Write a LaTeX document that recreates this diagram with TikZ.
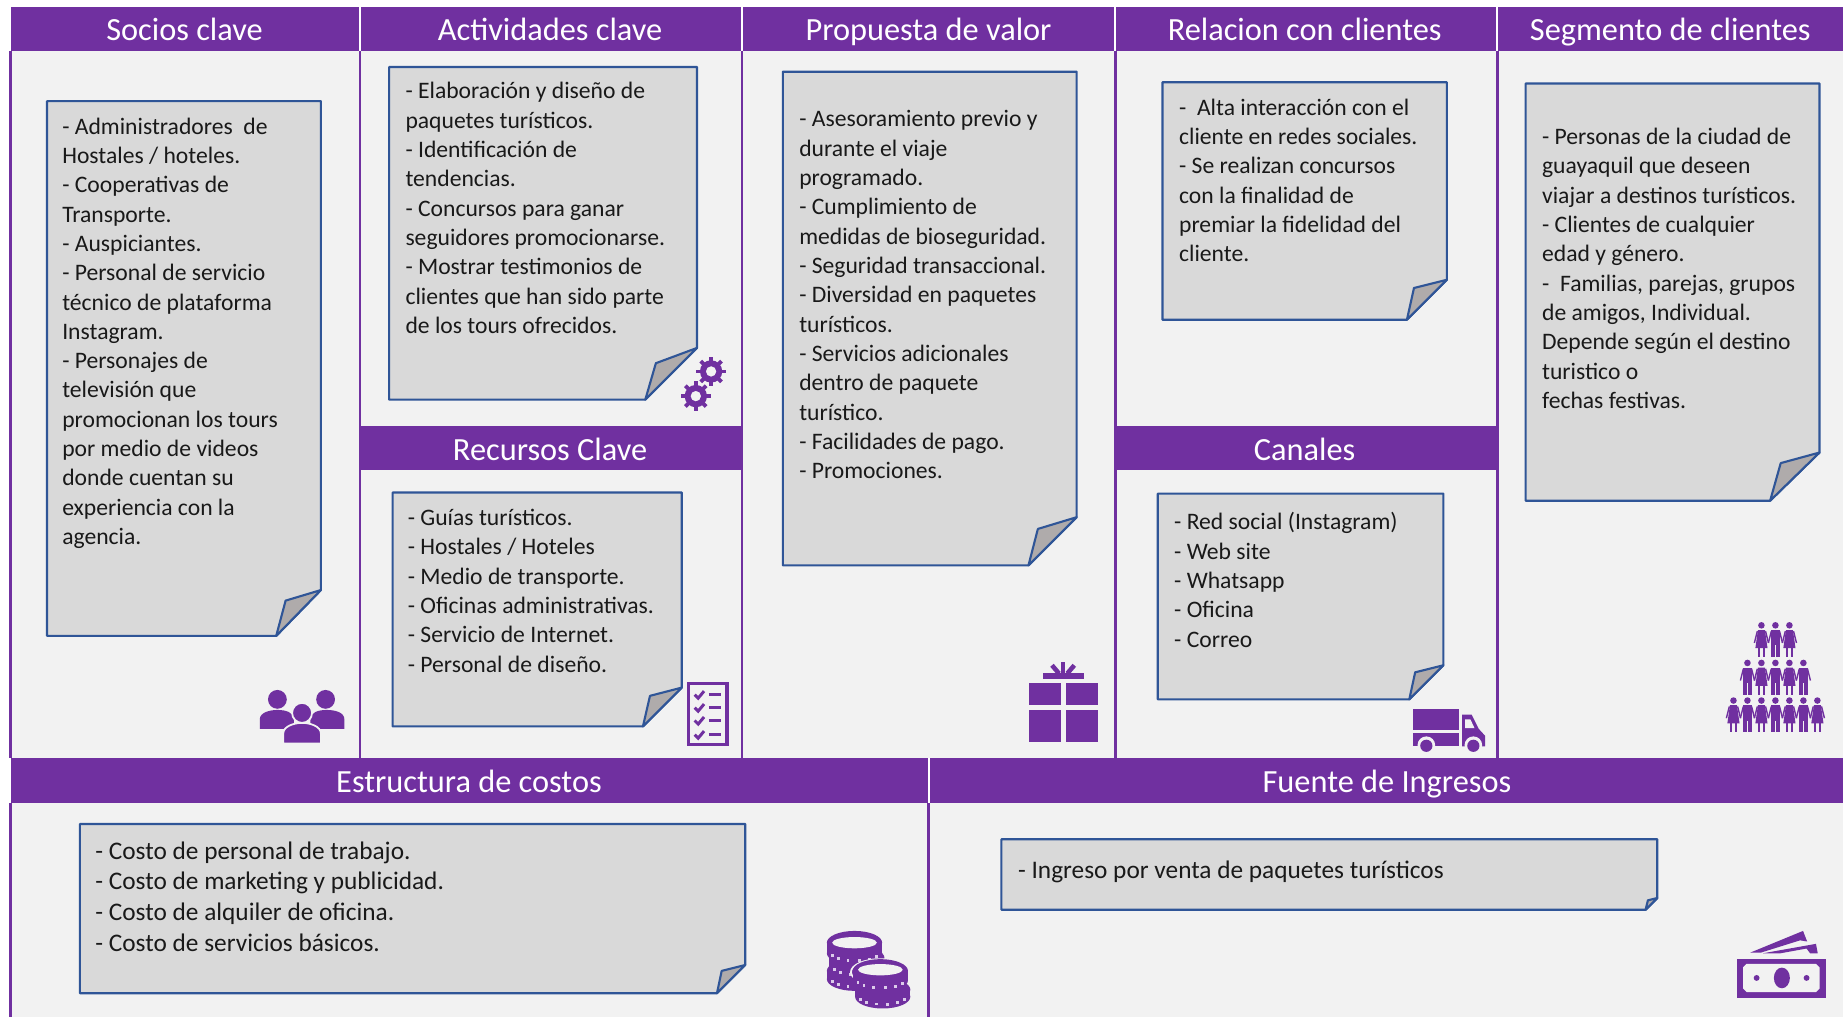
\documentclass[tikz,border=0pt]{standalone}
\usepackage{fontspec}
\setmainfont{Carlito}
\definecolor{bandpurple}{HTML}{7030A0}
\definecolor{canvasgray}{HTML}{F2F2F2}
\definecolor{papergray}{HTML}{D9D9D9}
\definecolor{foldgray}{HTML}{AFABAB}
\definecolor{edgeblue}{HTML}{2F5597}
\definecolor{dotlilac}{HTML}{DCCBEA}
\tikzset{
	band/.style={fill=bandpurple},
	rule/.style={draw=bandpurple,line width=.65pt},
	whiterule/.style={draw=white,line width=.55pt},
	title/.style={anchor=base,text=white,inner sep=0pt,font=\fontsize{9.2}{11}\selectfont},
	paper/.style={draw=edgeblue,fill=papergray,line width=.6pt,line join=round},
	fold/.style={draw=edgeblue,fill=foldgray,line width=.6pt,line join=round},
	notetext/.style={anchor=north west,align=left,inner sep=0pt,text=black!90,font=\fontsize{6.72}{8.34}\selectfont},
	widetext/.style={notetext,font=\fontsize{7.2}{8.7}\selectfont},
	icon/.style={fill=bandpurple},
	halo/.style={fill=bandpurple,draw=canvasgray,line width=.5pt}
}
\newcommand{\coinpiece}[3]{
	\fill[icon] (#1-23.5,#2) rectangle (#1+23.5,#2+#3);
	\fill[icon] (#1,#2) ellipse [x radius=23.5,y radius=10];
	\fill[icon] (#1,#2+#3) ellipse [x radius=23.5,y radius=10];
	\foreach \a in {22,50,...,162}
		\fill[dotlilac] ({#1+20*cos(\a)-1.2},{#2+#3+6.5*sin(\a)-1.2}) rectangle +(2.4,2.4);
}
\begin{document}
\begin{tikzpicture}[x=.011754cm,y=-.011754cm]
	\useasboundingbox (0,0) rectangle (1568,865.2);
	\fill[canvasgray] (9,6) rectangle (1568,865.2);

	\fill[band] (9,6) rectangle (1568,43);
	\fill[band] (307,362) rectangle (631,400);
	\fill[band] (949,362) rectangle (1274,400);
	\fill[band] (9,645) rectangle (1568,683);
	\foreach \x in {306,631,949,1274}{
		\draw[whiterule] (\x,6) -- (\x,43);
		\draw[rule] (\x,43) -- (\x,645);
	}
	\draw[rule] (9,43) -- (9,645);
	\draw[rule] (9,683) -- (9,865.2);
	\draw[rule] (790,683) -- (790,865.2);
	\draw[whiterule] (790,645) -- (790,683);

	\node[title] (socios) at (157,34.8) {Socios clave};
	\node[title] (actividades) at (468,34.8) {Actividades clave};
	\node[title] (propuesta) at (790,34.8) {Propuesta de valor};
	\node[title] (relacion) at (1110,34.8) {Relacion con clientes};
	\node[title] (segmento) at (1421,34.8) {Segmento de clientes};
	\node[title] (recursos) at (468,391.8) {Recursos Clave};
	\node[title] (canales) at (1110,391.8) {Canales};
	\node[title] (costos) at (399,674) {Estructura de costos};
	\node[title] (ingresos) at (1180,674) {Fuente de Ingresos};

	\foreach \xa/\ya/\xb/\yb/\xf/\yf/\xi/\yi in {
		40/86/273/541/235/502/243/511,
		331/57/593/340/549/296/558/309,
		334/419/580/618/547/585/553/592,
		666/61/916/481/875/440/883/450,
		989/70/1231/272/1197/238/1203/245,
		985/420/1228/595/1199/566/1204/572,
		1298/71/1548/426/1506/385/1515/394,
		68/701/634/845/610/821/614/826,
		852/714/1410/774/1400/764/1402/766}{
		\draw[paper] (\xa,\ya) -- (\xb,\ya) -- (\xb,\yf) -- (\xf,\yb) -- (\xa,\yb) -- cycle;
		\draw[fold] (\xf,\yb) -- (\xi,\yi) -- (\xb,\yf) -- cycle;
	}

	\node[notetext] (sociosnote) at (52.4,99.5) {- Administradores\ \ de\\Hostales / hoteles.\\- Cooperativas de\\Transporte.\\- Auspiciantes.\\- Personal de servicio\\técnico de plataforma\\Instagram.\\- Personajes de\\televisión que\\promocionan los tours\\por medio de videos\\donde cuentan su\\experiencia con la\\agencia.};
	\node[notetext] (actividadesnote) at (344.4,69.5) {- Elaboración y diseño de\\paquetes turísticos.\\- Identificación de\\tendencias.\\- Concursos para ganar\\seguidores promocionarse.\\- Mostrar testimonios de\\clientes que han sido parte\\de los tours ofrecidos.};
	\node[notetext] (recursosnote) at (346.4,432.5) {- Guías turísticos.\\- Hostales / Hoteles\\- Medio de transporte.\\- Oficinas administrativas.\\- Servicio de Internet.\\- Personal de diseño.};
	\node[notetext] (propuestanote) at (679.4,93.5) {- Asesoramiento previo y\\durante el viaje\\programado.\\- Cumplimiento de\\medidas de bioseguridad.\\- Seguridad transaccional.\\- Diversidad en paquetes\\turísticos.\\- Servicios adicionales\\dentro de paquete\\turístico.\\- Facilidades de pago.\\- Promociones.};
	\node[notetext] (relacionnote) at (1002.6,83.5) {-\ \ Alta interacción con el\\cliente en redes sociales.\\- Se realizan concursos\\con la finalidad de\\premiar la fidelidad del\\cliente.};
	\node[notetext] (canalesnote) at (998.4,435.5) {- Red social (Instagram)\\- Web site\\- Whatsapp\\- Oficina\\- Correo};
	\node[notetext] (segmentonote) at (1311.4,108.5) {- Personas de la ciudad de\\guayaquil que deseen\\viajar a destinos turísticos.\\- Clientes de cualquier\\edad y género.\\-\ \ Familias, parejas, grupos\\de amigos, Individual.\\Depende según el destino\\turistico o\\fechas festivas.};
	\node[widetext] (costosnote) at (80.6,715.5) {- Costo de personal de trabajo.\\- Costo de marketing y publicidad.\\- Costo de alquiler de oficina.\\- Costo de servicios básicos.};
	\node[widetext] (ingresosnote) at (865.6,732) {- Ingreso por venta de paquetes turísticos};

	\foreach \cx/\cy in {605/316,592/337}{
		\foreach \a in {0,45,...,315}
			\draw[bandpurple,line width=1.1pt] (\cx,\cy) ++(\a:7) -- ++(\a:5.5);
		\fill[icon,even odd rule] (\cx,\cy) circle (9.5) (\cx,\cy) circle (4.5);
	}

	\fill[icon] (236,595) circle (8);
	\fill[icon] (277,595) circle (8);
	\fill[icon] (221,620) -- (221,612) .. controls (221,606) and (230,604) .. (236,604) .. controls (243,604) and (250,606) .. (250,612) -- (250,620) -- cycle;
	\fill[icon] (264,620) -- (264,612) .. controls (264,606) and (271,604) .. (278,604) .. controls (285,604) and (293,606) .. (293,612) -- (293,620) -- cycle;
	\draw[halo] (257,606.5) circle (8.5);
	\draw[halo] (241,632.5) -- (241,624) .. controls (241,618) and (250,615) .. (257,615) .. controls (264,615) and (273,618) .. (273,624) -- (273,632.5) -- cycle;

	\draw[bandpurple,line width=.95pt] (586,581.5) rectangle (618.5,633.5);
	\foreach \y in {591,602,613,625}{
		\draw[bandpurple,line width=.85pt] (591,\y) -- (594,\y+3) -- (599,\y-3);
		\draw[bandpurple,line width=.7pt] (603,\y) -- (613,\y);
	}

	\fill[icon] (875.5,581) rectangle (903,600);
	\fill[icon] (907,581) rectangle (934,600);
	\fill[icon] (875.5,604) rectangle (903,631);
	\fill[icon] (907,604) rectangle (934,631);
	\fill[icon] (887.5,572.5) rectangle (922,578);
	\draw[bandpurple,line width=1.3pt] (904.5,573) -- (904.5,563);
	\draw[bandpurple,line width=1.3pt] (901,573) -- (895,566);
	\draw[bandpurple,line width=1.3pt] (908,573) -- (914,566);

	\fill[icon] (1202,603) rectangle (1241.5,621);
	\fill[icon] (1202,624) rectangle (1241.5,635);
	\fill[icon] (1244,635) -- (1244,608) -- (1252,608) -- (1258,620) -- (1263.5,626) -- (1263.5,635) -- cycle;
	\fill[canvasgray] (1246.5,612) -- (1251,612) -- (1254.5,619.5) -- (1246.5,619.5) -- cycle;
	\foreach \cx in {1213.5,1253.5}{
		\fill[canvasgray] (\cx,634) circle (7.5);
		\fill[icon] (\cx,634.5) circle (5.2);
	}

	\foreach \hy/\klist in {532/{-1,0,1},564/{-2,-1,0,1,2},596/{-3,-2,-1,0,1,2,3}}{
		\foreach \k in \klist{
			\pgfmathsetmacro{\hx}{1510.5+11.9*\k}
			\fill[icon] (\hx,\hy) circle (2.8);
			\draw[bandpurple,line width=.4pt] (\hx-3.5,\hy+5) -- (\hx-6,\hy+15);
			\draw[bandpurple,line width=.4pt] (\hx+3.5,\hy+5) -- (\hx+6,\hy+15);
			\ifodd\k
				\fill[icon] (\hx-3,\hy+4) -- (\hx+3,\hy+4) -- (\hx+5.2,\hy+19.5) -- (\hx-5.2,\hy+19.5) -- cycle;
				\fill[icon] (\hx-3,\hy+19) rectangle (\hx-1,\hy+27);
				\fill[icon] (\hx+1,\hy+19) rectangle (\hx+3,\hy+27);
			\else
				\fill[icon] (\hx-3.6,\hy+4) rectangle (\hx+3.6,\hy+17);
				\fill[icon] (\hx-3.6,\hy+16) rectangle (\hx-.7,\hy+27);
				\fill[icon] (\hx+.7,\hy+16) rectangle (\hx+3.6,\hy+27);
			\fi
		}
	}

	\coinpiece{727}{826}{7}
	\coinpiece{729}{815}{8}
	\coinpiece{727}{802}{9}
	\fill[canvasgray] (727,802) ellipse [x radius=19,y radius=4.8];
	\draw[canvasgray,line width=.5pt] (749,827) ellipse [x radius=25,y radius=11];
	\coinpiece{751}{842}{6}
	\coinpiece{749}{826}{8}
	\fill[canvasgray] (749,825) ellipse [x radius=19,y radius=4.8];

	\fill[icon] (1478,815.5) rectangle (1553.5,849);
	\fill[canvasgray] (1486,820) -- (1545,820) -- (1548,823) -- (1548,841) -- (1545,844) -- (1486,844) -- (1483,841) -- (1483,823) -- cycle;
	\fill[icon] (1516,832) ellipse [x radius=6.8,y radius=8.8];
	\fill[icon] (1494.5,832) circle (2.5);
	\fill[icon] (1537,832) circle (2.5);
	\fill[icon] (1489,810.5) -- (1534,792) -- (1537.5,801) -- (1531.5,800) -- (1498,810.5) -- cycle;
	\fill[icon] (1500,811) -- (1545,803) -- (1546.5,811) -- (1540,811) -- (1537,807) -- (1515,811) -- cycle;
\end{tikzpicture}
\end{document}
